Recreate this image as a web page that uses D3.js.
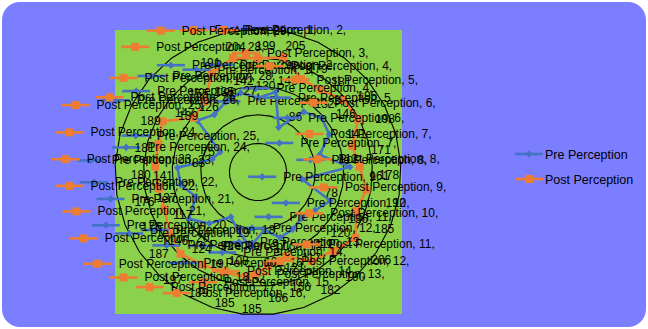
<!DOCTYPE html>
<html>
<head>
<meta charset="utf-8">
<script src="https://cdn.jsdelivr.net/npm/d3@7"></script>
<style>
  html, body { margin: 0; padding: 0; background: #ffffff; }
  svg { display: block; font-family: "Liberation Sans", Arial, sans-serif; }
</style>
</head>
<body>
<svg id="chart" width="648" height="329"></svg>
<script>
// Survey items 1..29, scored before and after
const categories = ["1","2","3","4","5","6","7","8","9","10","11","12","13","14","15",
                    "16","17","18","19","20","21","22","23","24","25","26","27","28","29"];
const preValues  = [130, 143, 86, 132, 146, 141, 112, 161, 78, 136, 120, 111, 117, 121, 102,
                    132, 108, 92, 124, 146, 117, 137, 141, 83, 75, 139, 126, 135, 142];
const postValues = [199, 205, 179, 181, 195, 198, 171, 178, 192, 185, 206, 190, 182, 156, 166,
                    185, 185, 189, 197, 187, 176, 176, 180, 181, 189, 147, 155, 191, 204];
const seriesNames = ["Pre Perception", "Post Perception"];
const ringTicks = [50, 100, 150, 200, 250];

const colors = { pre: "#4472c4", post: "#ed7d31" };

const svg = d3.select("#chart");
const W = 648, H = 329;

// chart area
svg.append("rect")
  .attr("x", 2).attr("y", 2).attr("width", W - 4).attr("height", H - 4)
  .attr("rx", 18).attr("ry", 18)
  .attr("fill", "#7b7fff");

// plot area
svg.append("rect")
  .attr("x", 115).attr("y", 30).attr("width", 287).attr("height", 284)
  .attr("fill", "#8bd14b");

const cx = 258, cy = 172;
const r = d3.scaleLinear().domain([0, 250]).range([0, 143]);
const angle = d3.scaleLinear().domain([0, categories.length]).range([0, 2 * Math.PI]);

const g = svg.append("g").attr("transform", `translate(${cx},${cy})`);

// ring gridlines
const ringLine = d3.lineRadial()
  .angle((d, i) => angle(i))
  .radius(d => r(d))
  .curve(d3.curveLinearClosed);

g.selectAll("path.ring")
  .data(ringTicks)
  .join("path")
  .attr("class", "ring")
  .attr("d", t => ringLine(categories.map(() => t)))
  .attr("fill", "none")
  .attr("stroke", "#000")
  .attr("stroke-width", 1.1);

const seriesLine = d3.lineRadial()
  .angle((d, i) => angle(i))
  .radius(d => r(d))
  .curve(d3.curveLinearClosed);

const series = [
  { name: seriesNames[0], values: preValues, color: colors.pre, marker: "diamond" },
  { name: seriesNames[1], values: postValues, color: colors.post, marker: "square" }
];

function drawMarker(sel, type, color) {
  if (type === "diamond") {
    sel.append("path")
      .attr("d", d3.symbol(d3.symbolDiamond, 26)())
      .attr("transform", "scale(1.25,0.8)")
      .attr("fill", color);
  } else {
    sel.append("rect")
      .attr("x", -4).attr("y", -4).attr("width", 8).attr("height", 8)
      .attr("fill", color);
  }
}

function pointXY(v, i) {
  const a = angle(i);
  return [r(v) * Math.sin(a), -r(v) * Math.cos(a)];
}

// series lines and markers
series.forEach(s => {
  g.append("path")
    .attr("d", seriesLine(s.values))
    .attr("fill", "none")
    .attr("stroke", s.color)
    .attr("stroke-width", 2.6)
    .attr("stroke-linejoin", "round");
  s.values.forEach((v, i) => {
    const [x, y] = pointXY(v, i);
    const m = g.append("g").attr("transform", `translate(${x},${y})`);
    drawMarker(m, s.marker, s.color);
  });
});

// data labels: legend key + "series, category," with the value beneath
const labelOffset = 22;
const labelShift = -10;
series.forEach(s => {
  s.values.forEach((v, i) => {
    const a = angle(i);
    const [x, y] = pointXY(v, i);
    const lx = x + labelOffset * Math.sin(a) + labelShift;
    const ly = y - labelOffset * Math.cos(a);
    const lab = g.append("g");
    const t1 = lab.append("text")
      .attr("font-size", 12)
      .attr("fill", "#000")
      .text(`${s.name}, ${categories[i]},`);
    const tw = t1.node().getComputedTextLength();
    const keyW = 28, gap = 7;
    const total = keyW + gap + tw;
    const left = lx - total / 2;
    t1.attr("x", left + keyW + gap).attr("y", ly - 2);
    lab.append("text")
      .attr("font-size", 12)
      .attr("fill", "#000")
      .attr("text-anchor", "middle")
      .attr("x", left + keyW + gap + tw / 2)
      .attr("y", ly + 14)
      .text(v);
    lab.append("line")
      .attr("x1", left).attr("x2", left + keyW)
      .attr("y1", ly - 6).attr("y2", ly - 6)
      .attr("stroke", s.color).attr("stroke-width", 2.6);
    const km = lab.append("g").attr("transform", `translate(${left + keyW / 2},${ly - 6})`);
    drawMarker(km, s.marker, s.color);
  });
});

// legend
const legend = svg.append("g").attr("transform", "translate(515,154)");
series.forEach((s, i) => {
  const row = legend.append("g").attr("transform", `translate(0,${i * 25})`);
  row.append("line")
    .attr("x1", 0).attr("x2", 28).attr("y1", 0).attr("y2", 0)
    .attr("stroke", s.color).attr("stroke-width", 2.6);
  const m = row.append("g").attr("transform", "translate(14,0)");
  drawMarker(m, s.marker, s.color);
  row.append("text")
    .attr("x", 30).attr("y", 4.5)
    .attr("font-size", 12.5)
    .attr("fill", "#000")
    .text(s.name);
});
</script>
</body>
</html>
